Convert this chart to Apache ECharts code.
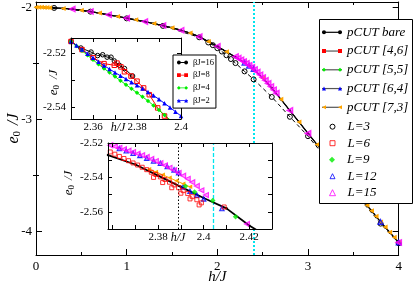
<!DOCTYPE html>
<html><head><meta charset="utf-8">
<script src="https://cdn.jsdelivr.net/npm/echarts@6/dist/echarts.min.js"></script>
<style>html,body{margin:0;padding:0;background:#fff}#c{width:415px;height:284px}</style>
</head><body><div id="c"></div>
<script>
// ================= DATA =================
// main panel: pCUT curve (all pCUT orders coincide at this scale)
const hMain = [0,0.1,0.2,0.3,0.4,0.5,0.6,0.7,0.8,0.9,1.0,1.1,1.2,1.3,1.4,1.5,1.6,1.7,1.8,1.9,2.0,2.1,2.2,2.3,2.4,2.5,2.6,2.7,2.8,2.9,3.0,3.1,3.2,3.3,3.4,3.5,3.6,3.7,3.8,3.9,4.0];
const ePcutBare = [-2.000,-2.002,-2.006,-2.010,-2.016,-2.026,-2.038,-2.052,-2.067,-2.082,-2.097,-2.112,-2.128,-2.145,-2.163,-2.183,-2.205,-2.230,-2.262,-2.305,-2.350,-2.397,-2.445,-2.495,-2.553,-2.630,-2.720,-2.820,-2.922,-3.023,-3.125,-3.225,-3.325,-3.425,-3.525,-3.620,-3.720,-3.815,-3.915,-4.007,-4.098];
const hP73Main = [0,0.03,0.06,0.09,0.12,0.15,0.3,0.5,0.7,0.9,1.1,1.3,1.5,1.7,1.9,2.1,2.5,2.7,2.9,3.1,3.3,3.5,3.6,3.65,3.7,3.75,3.8,3.85,3.9,3.95,4.0];
const eP73Main = [-2.000,-2.0002,-2.0007,-2.0016,-2.003,-2.0045,-2.010,-2.026,-2.052,-2.082,-2.112,-2.145,-2.183,-2.230,-2.305,-2.397,-2.630,-2.820,-3.023,-3.225,-3.425,-3.620,-3.720,-3.767,-3.815,-3.865,-3.915,-3.961,-4.007,-4.052,-4.098];
const hL3Main = [0.2,0.6,1.0,1.4,1.8,1.9,1.95,2.0,2.05,2.1,2.15,2.2,2.3,2.4,2.6,2.8,3.0,3.4,3.8,4.0];
const eL3Main = [-2.006,-2.039,-2.099,-2.166,-2.268,-2.314,-2.338,-2.365,-2.395,-2.428,-2.462,-2.498,-2.572,-2.643,-2.800,-2.977,-3.150,-3.545,-3.930,-4.105];
const hL12Main = [2.3,2.35,2.4,3.8,4.0];
const eL12Main = [-2.493,-2.520,-2.550,-3.915,-4.098];
const hL15Main = [0.4,0.6,0.8,1.0,1.2,1.4,1.6,1.8,2.0,2.2,2.23,2.26,2.29,2.32,2.35,2.38,2.41,2.44,2.47,2.5,2.53,2.56,2.59,2.62,2.65,2.8,3.0,4.0];
const eL15Main = [-2.016,-2.038,-2.067,-2.097,-2.128,-2.163,-2.205,-2.262,-2.348,-2.440,-2.454,-2.469,-2.484,-2.500,-2.517,-2.535,-2.556,-2.578,-2.602,-2.626,-2.652,-2.679,-2.707,-2.736,-2.766,-2.920,-3.125,-4.098];
const vLineMain = [2.4];
const mainYMajor = [-4,-3,-2];
const mainYMinor = [-3.5,-2.5];

// upper inset: finite temperature
const hB16 = [2.3500,2.3545,2.3591,2.3621,2.3644,2.3664,2.3682,2.3697,2.3720,2.3743,2.3780];
const eB16 = [-2.5158,-2.5182,-2.5197,-2.5210,-2.5207,-2.5216,-2.5216,-2.5230,-2.5246,-2.5258,-2.5286];
const hB8 = [2.3500,2.3550,2.3600,2.3650,2.3697,2.3709,2.3727,2.3743,2.3773,2.3800,2.3830,2.3856,2.3894,2.3925,2.3945];
const eB8 = [-2.5158,-2.5188,-2.5218,-2.5240,-2.5246,-2.5238,-2.5252,-2.5270,-2.5286,-2.5305,-2.5330,-2.5355,-2.5404,-2.5434,-2.5448];
const hB4 = [2.3500,2.3525,2.3550,2.3575,2.3600,2.3625,2.3650,2.3675,2.3700,2.3725,2.3750,2.3775,2.3800,2.3825,2.3850,2.3875,2.3900,2.3925,2.3950];
const eB4 = [-2.5158,-2.5175,-2.5192,-2.5209,-2.5226,-2.5242,-2.5258,-2.5273,-2.5288,-2.5303,-2.5318,-2.5333,-2.5348,-2.5363,-2.5378,-2.5395,-2.5412,-2.5430,-2.5448];
const hB2 = [2.3500,2.3525,2.3550,2.3575,2.3600,2.3625,2.3650,2.3675,2.3700,2.3725,2.3750,2.3775,2.3800,2.3825,2.3850,2.3875,2.3900,2.3925,2.3950,2.3975,2.4000];
const eB2 = [-2.5158,-2.5173,-2.5188,-2.5203,-2.5218,-2.5233,-2.5247,-2.5260,-2.5273,-2.5285,-2.5297,-2.5309,-2.5320,-2.5332,-2.5345,-2.5358,-2.5372,-2.5387,-2.5402,-2.5418,-2.5434];
const upXTicks = [2.35,2.36,2.37,2.38,2.39,2.4];
const upXLabels = [2.36,2.38,2.4];
const upYTicks = [-2.54,-2.53,-2.52];
const upYLabels = [-2.54,-2.52];

// lower inset: zoom near the transition
const hBareIn = [2.358,2.37,2.38,2.39,2.40,2.41,2.42,2.43];
const eBareIn = [-2.527,-2.5325,-2.539,-2.5455,-2.552,-2.558,-2.568,-2.576];
const hP73In = [2.376,2.379,2.382,2.385,2.388,2.391,2.394];
const eP73In = [-2.5352,-2.5368,-2.5385,-2.5402,-2.5420,-2.5437,-2.5455];
const hL6In = [2.359,2.361,2.363,2.365,2.367,2.369,2.371,2.373,2.375,2.377,2.379,2.381,2.383,2.385,2.387,2.389,2.391,2.393,2.395,2.397,2.399,2.409,2.378,2.382,2.386,2.390,2.394,2.398];
const eL6In = [-2.5252,-2.5265,-2.5278,-2.5290,-2.5303,-2.5316,-2.5328,-2.5341,-2.5355,-2.5370,-2.5383,-2.5397,-2.5412,-2.5428,-2.5444,-2.5460,-2.5477,-2.5494,-2.5512,-2.5530,-2.5548,-2.5572,-2.5400,-2.5430,-2.5460,-2.5492,-2.5525,-2.5560];
const hL9In = [2.392,2.396,2.404,2.414];
const eL9In = [-2.5452,-2.5485,-2.5535,-2.5629];
const hL12In = [2.363,2.366,2.369,2.372,2.375,2.378,2.381,2.384,2.387,2.389,2.391,2.394,2.397,2.400,2.408];
const eL12In = [-2.5232,-2.5245,-2.5260,-2.5272,-2.5288,-2.5305,-2.5318,-2.5337,-2.5356,-2.5372,-2.5455,-2.5480,-2.5503,-2.5525,-2.5581];
const hL15In = [2.359,2.361,2.363,2.365,2.367,2.369,2.371,2.373,2.375,2.377,2.379,2.381,2.383,2.385,2.387,2.389,2.391,2.393,2.395,2.397,2.399,2.401,2.419];
const eL15In = [-2.5213,-2.5220,-2.5228,-2.5236,-2.5245,-2.5253,-2.5262,-2.5271,-2.5281,-2.5293,-2.5305,-2.5317,-2.5330,-2.5344,-2.5358,-2.5374,-2.5390,-2.5408,-2.5428,-2.5450,-2.5475,-2.5503,-2.5671];
const vDottedIn = [2.3887];
const vDashedIn = [2.4041];
const loXTicks = [2.36,2.37,2.38,2.39,2.4,2.41,2.42,2.43];
const loXLabels = [2.38,2.4,2.42];
const loYTicks = [-2.57,-2.56,-2.55,-2.54,-2.53,-2.52];
const loYLabels = [-2.56,-2.54,-2.52];

// ================= STYLE / BUILD =================
const FONT = "'Liberation Serif','Times New Roman',serif";
const fmt = v => String(Math.round(v * 100) / 100);
const pts = (xs, ys) => xs.map((x, i) => [x, ys[i]]);
const CLEAR = 'rgba(0,0,0,0)';

function axis(gi, pos, min, max, tickVals, labelVals, len, fs, margin, z, extra) {
  const a = {
    type: 'value', gridIndex: gi, position: pos, min: min, max: max, z: z,
    axisLine: {show: true, onZero: false, lineStyle: {color: '#000', width: 1}},
    axisTick: {show: true, inside: true, length: len, lineStyle: {color: '#000', width: 1}},
    axisLabel: {show: !!labelVals, margin: margin, fontSize: fs, fontFamily: FONT, color: '#000', formatter: fmt},
    splitLine: {show: false}, minorSplitLine: {show: false},
    nameMoveOverlap: false
  };
  if (tickVals) a.axisTick.customValues = tickVals;
  if (labelVals) a.axisLabel.customValues = labelVals;
  return Object.assign(a, extra || {});
}
function richName(fs, sfs, gap, pad) {
  return {color: '#000', padding: pad, rich: {
    i: {fontFamily: FONT, fontStyle: 'italic', fontSize: fs, color: '#000'},
    s: {fontFamily: FONT, fontSize: sfs, color: '#000', padding: [Math.round(fs * 0.45), 0, 0, 0]},
    g: {width: gap, fontSize: sfs}
  }};
}
const E0J = '{i|e}{s|0}{g| }{i|/J}';

const xAxes = [
  axis(0, 'bottom', 0, 4, null, null, 6, 13, 5, 0, {
    interval: 1, axisLabel: {show: true, margin: 5, fontSize: 13, fontFamily: FONT, color: '#000', formatter: fmt},
    minorTick: {show: true, splitNumber: 2, length: 3, lineStyle: {color: '#000'}},
    name: 'h/J', nameLocation: 'middle', nameGap: 15,
    nameTextStyle: {fontFamily: FONT, fontStyle: 'italic', fontSize: 15, color: '#000'}}),
  axis(0, 'top', 0, 4, null, null, 6, 13, 5, 0, {
    interval: 1, minorTick: {show: true, splitNumber: 2, length: 3, lineStyle: {color: '#000'}}}),
  axis(1, 'bottom', 2.35, 2.4, upXTicks, upXLabels, 4, 11, 3, 4, {
    name: 'h/J', nameLocation: 'middle', nameGap: 3,
    nameTextStyle: {fontFamily: FONT, fontStyle: 'italic', fontSize: 12, color: '#000', padding: [0, 16, 0, 0]}}),
  axis(1, 'top', 2.35, 2.4, upXTicks, null, 4, 11, 3, 4),
  axis(2, 'bottom', 2.358, 2.43, loXTicks, loXLabels, 4, 11, 3, 4, {
    name: 'h/J', nameLocation: 'middle', nameGap: 3,
    nameTextStyle: {fontFamily: FONT, fontStyle: 'italic', fontSize: 12, color: '#000', padding: [0, 24, 0, 0]}}),
  axis(2, 'top', 2.358, 2.43, loXTicks, null, 4, 11, 3, 4)
];
const yAxes = [
  axis(0, 'left', -4.21, -1.953, mainYMajor, mainYMajor, 6, 13, 4, 0, {
    name: E0J, nameLocation: 'middle', nameGap: 13, nameTextStyle: richName(16, 11, 6, [0, 0, 0, 0])}),
  axis(0, 'right', -4.21, -1.953, mainYMajor, null, 6, 13, 4, 0),
  axis(0, 'left', -4.21, -1.953, mainYMinor, null, 3, 13, 4, 0, {axisLine: {show: false}}),
  axis(0, 'right', -4.21, -1.953, mainYMinor, null, 3, 13, 4, 0, {axisLine: {show: false}}),
  axis(1, 'left', -2.5445, -2.5145, upYTicks, upYLabels, 4, 11, 5, 4, {
    name: E0J, nameLocation: 'middle', nameGap: 10, nameTextStyle: richName(13, 9, 6, [0, 8, 0, 0])}),
  axis(1, 'right', -2.5445, -2.5145, upYTicks, null, 4, 11, 5, 4),
  axis(2, 'left', -2.57, -2.52, loYTicks, loYLabels, 4, 11, 5, 4, {
    name: E0J, nameLocation: 'middle', nameGap: 32, nameTextStyle: richName(13, 9, 5, [0, 0, 0, 6])}),
  axis(2, 'right', -2.57, -2.52, loYTicks, null, 4, 11, 5, 4)
];

const C = {black: '#000000', red: '#ff0000', green: '#00ee00', blue: '#0000ff', orange: '#ffa500', magenta: '#ff00ff', cyan: '#00e5ee', gray: '#555555'};

function lineS(name, xs, ys, xi, yi, z, o) {
  return Object.assign({type: 'line', name: name, data: pts(xs, ys), xAxisIndex: xi, yAxisIndex: yi, z: z,
    silent: true, clip: true, showSymbol: true, animation: false}, o);
}
function scatS(name, xs, ys, xi, yi, z, o) {
  return Object.assign({type: 'scatter', name: name, data: pts(xs, ys), xAxisIndex: xi, yAxisIndex: yi, z: z,
    silent: true, clip: true, animation: false}, o);
}
const open = (col) => ({color: CLEAR, borderColor: col, borderWidth: 1});

const series = [
  // ---- main panel ----
  lineS('pCUT [4,6]', hMain, ePcutBare, 0, 0, 1, {symbol: 'none', lineStyle: {color: C.gray, width: 1}, itemStyle: {color: C.red}}),
  lineS('pCUT [5,5]', hMain, ePcutBare, 0, 0, 1, {symbol: 'none', lineStyle: {color: C.gray, width: 1}, itemStyle: {color: C.green}}),
  lineS('pCUT [6,4]', hMain, ePcutBare, 0, 0, 1, {symbol: 'none', lineStyle: {color: C.gray, width: 1}, itemStyle: {color: C.blue}}),
  lineS('L=3', hL3Main, eL3Main, 0, 0, 1, {symbol: 'circle', symbolSize: 5, lineStyle: {color: C.black, width: 1, type: [4, 3]}, itemStyle: open(C.black)}),
  lineS('pCUT bare', hMain, ePcutBare, 0, 0, 1, {symbol: 'circle', symbolSize: 2.5, lineStyle: {color: C.black, width: 1.3}, itemStyle: {color: C.black},
    markLine: {silent: true, z: 1, precision: 4, symbol: 'none', label: {show: false}, animation: false,
      lineStyle: {color: C.cyan, width: 2, type: [2, 2]}, data: vLineMain.map(v => ({xAxis: v}))}}),
  lineS('pCUT [7,3]', hP73Main, eP73Main, 0, 0, 1, {symbol: 'triangle', symbolRotate: 90, symbolSize: 5, lineStyle: {opacity: 0}, itemStyle: {color: C.orange}}),
  scatS('L=12', hL12Main, eL12Main, 0, 0, 1, {symbol: 'triangle', symbolSize: 5, itemStyle: {color: 'rgba(0,0,255,0.35)', borderColor: C.blue, borderWidth: 1.2}}),
  scatS('L=15', hL15Main, eL15Main, 0, 0, 1, {symbol: 'triangle', symbolRotate: 90, symbolSize: 5.5, itemStyle: {color: 'rgba(255,0,255,0.6)', borderColor: C.magenta, borderWidth: 1.3}}),
  // ---- upper inset ----
  lineS('βJ=16', hB16, eB16, 2, 4, 3, {symbol: 'circle', symbolSize: 4.5, lineStyle: {color: C.black, width: 1}, itemStyle: open(C.black)}),
  lineS('βJ=8', hB8, eB8, 2, 4, 3, {symbol: 'rect', symbolSize: 4.5, lineStyle: {color: C.red, width: 1}, itemStyle: open(C.red)}),
  lineS('βJ=4', hB4, eB4, 2, 4, 3, {symbol: 'diamond', symbolSize: 4.5, lineStyle: {color: C.green, width: 1}, itemStyle: {color: C.green}}),
  lineS('βJ=2', hB2, eB2, 2, 4, 3, {symbol: 'triangle', symbolSize: 4.5, lineStyle: {color: C.blue, width: 1}, itemStyle: {color: C.blue}}),
  // ---- lower inset ----
  lineS('pCUT bare', hBareIn, eBareIn, 4, 6, 3, {symbol: 'circle', symbolSize: 2.5, lineStyle: {color: C.black, width: 1.8}, itemStyle: {color: C.black},
    markLine: {silent: true, z: 3, precision: 4, symbol: 'none', label: {show: false}, animation: false,
      data: vDottedIn.map(v => ({xAxis: v, lineStyle: {color: C.black, width: 1, type: [1.5, 2]}}))
        .concat(vDashedIn.map(v => ({xAxis: v, lineStyle: {color: C.cyan, width: 1.3, type: [4, 2]}})))}}),
  scatS('L=12', hL12In, eL12In, 4, 6, 3, {symbol: 'triangle', symbolSize: 4.5, itemStyle: {color: 'rgba(0,0,255,0.4)', borderColor: C.blue, borderWidth: 1.1}}),
  scatS('L=15', hL15In, eL15In, 4, 6, 3, {symbol: 'triangle', symbolRotate: 90, symbolSize: 5, itemStyle: {color: 'rgba(255,0,255,0.5)', borderColor: C.magenta, borderWidth: 1.1}}),
  lineS('pCUT [7,3]', hP73In, eP73In, 4, 6, 3, {symbol: 'triangle', symbolRotate: 90, symbolSize: 4.5, lineStyle: {color: C.orange, width: 1}, itemStyle: {color: C.orange}}),
  scatS('L=9', hL9In, eL9In, 4, 6, 3, {symbol: 'diamond', symbolSize: 5.5, itemStyle: {color: C.green}}),
  scatS('L=6', hL6In, eL6In, 4, 6, 3, {symbol: 'rect', symbolSize: 4, itemStyle: open(C.red)})
];

// legend icons
const LINE_ICON = 'path://M0,0H20V1.2H0Z';
const ENDS = {
  circle: 'path://M0,2A2,2,0,1,1,4,2A2,2,0,1,1,0,2Z M16,2A2,2,0,1,1,20,2A2,2,0,1,1,16,2Z',
  rect: 'path://M0,0H4V4H0Z M16,0H20V4H16Z',
  diamond: 'path://M0,2L2,0L4,2L2,4Z M16,2L18,0L20,2L18,4Z',
  triangle: 'path://M0,4L2,0L4,4Z M16,4L18,0L20,4Z',
  left: 'path://M0,2L4,0L4,4Z M16,2L20,0L20,4Z'
};
const SMALL = {
  circle: 'path://M0,1.5H11V2.3H0Z M0,1.9A1.9,1.9,0,1,1,3.8,1.9A1.9,1.9,0,1,1,0,1.9Z M7.2,1.9A1.9,1.9,0,1,1,11,1.9A1.9,1.9,0,1,1,7.2,1.9Z',
  rect: 'path://M0,1.5H11V2.3H0Z M0,0H3.8V3.8H0Z M7.2,0H11V3.8H7.2Z',
  diamond: 'path://M0,1.5H11V2.3H0Z M0,1.9L1.9,0L3.8,1.9L1.9,3.8Z M7.2,1.9L9.1,0L11,1.9L9.1,3.8Z',
  triangle: 'path://M0,1.5H11V2.3H0Z M0,3.8L1.9,0L3.8,3.8Z M7.2,3.8L9.1,0L11,3.8Z'
};
const pcutNames = ['pCUT bare', 'pCUT [4,6]', 'pCUT [5,5]', 'pCUT [6,4]', 'pCUT [7,3]'];
const pcutCols = [C.black, C.red, C.green, C.blue, C.orange];
const pcutIcons = [ENDS.circle, ENDS.rect, ENDS.diamond, ENDS.triangle, ENDS.left];
const lNames = ['L=3', 'L=6', 'L=9', 'L=12', 'L=15'];
const lIcons = ['circle', 'rect', 'diamond', 'triangle', 'triangle'];
const lSizes = [5, 5, 6, 5, 6];
const lStyles = [open(C.black), open(C.red), {color: C.green, borderWidth: 0}, open(C.blue), open(C.magenta)];
const betaNames = ['βJ=16', 'βJ=8', 'βJ=4', 'βJ=2'];
const betaCols = [C.black, C.red, C.green, C.blue];
const betaIcons = [SMALL.circle, SMALL.rect, SMALL.diamond, SMALL.triangle];

const legText = {fontFamily: FONT, fontStyle: 'italic', fontSize: 13, lineHeight: 14, color: '#000'};
const legends = [
  {id: 'pcutLines', orient: 'vertical', left: 322, top: 25.3, padding: 0, itemWidth: 20, itemHeight: 14, itemGap: 4.75,
    selectedMode: false, z: 8, textStyle: legText,
    data: pcutNames.map((n, i) => ({name: n, icon: LINE_ICON, itemStyle: {color: i === 0 ? C.black : C.gray, borderWidth: 0}}))},
  {id: 'pcutEnds', orient: 'vertical', left: 322, top: 25.3, padding: 0, itemWidth: 20, itemHeight: 14, itemGap: 4.75,
    selectedMode: false, z: 9, textStyle: Object.assign({}, legText, {color: CLEAR}),
    data: pcutNames.map((n, i) => ({name: n, icon: pcutIcons[i], itemStyle: {color: pcutCols[i], borderWidth: 0}}))}
].concat(lNames.map((n, i) => ({
    id: 'size' + i, orient: 'vertical', left: 332 - lSizes[i] / 2, top: 119.7 + 16.5 * i, padding: 0,
    itemWidth: lSizes[i], itemHeight: lSizes[i], selectedMode: false, z: 8,
    textStyle: Object.assign({}, legText, {padding: [0, 0, 0, 10 - lSizes[i] / 2]}),
    data: [{name: n, icon: lIcons[i], symbolRotate: i === 4 ? 90 : 0, itemStyle: lStyles[i]}]
  }))).concat([
  {id: 'beta', orient: 'vertical', left: 173, top: 55, padding: [3, 2, 3, 4], itemWidth: 11, itemHeight: 8, itemGap: 3.7,
    backgroundColor: '#fff', borderColor: '#000', borderWidth: 1, borderRadius: 0,
    selectedMode: false, z: 6, textStyle: {fontFamily: FONT, fontSize: 8.5, lineHeight: 8, color: '#000'},
    data: betaNames.map((n, i) => ({name: n, icon: betaIcons[i], itemStyle: {color: betaCols[i], borderWidth: 0}}))}
]);

const option = {
  animation: false,
  backgroundColor: '#fff',
  grid: [
    {left: 36, top: 2, width: 362.7, height: 253, containLabel: false, outerBoundsMode: 'none', z: 0},
    {left: 71, top: 38, width: 110, height: 81, containLabel: false, outerBoundsMode: 'none', show: true, backgroundColor: '#fff', borderWidth: 0, z: 2},
    {left: 108, top: 143, width: 164, height: 86, containLabel: false, outerBoundsMode: 'none', show: true, backgroundColor: '#fff', borderWidth: 0, z: 2}
  ],
  xAxis: xAxes,
  yAxis: yAxes,
  legend: legends,
  graphic: [{type: 'rect', z: 7, silent: true, shape: {x: 319.5, y: 19.5, width: 93, height: 184},
    style: {fill: '#fff', stroke: '#000', lineWidth: 1}}],
  series: series
};
const chart = echarts.init(document.getElementById('c'), null, {renderer: 'canvas'});
chart.setOption(option);
</script></body></html>
